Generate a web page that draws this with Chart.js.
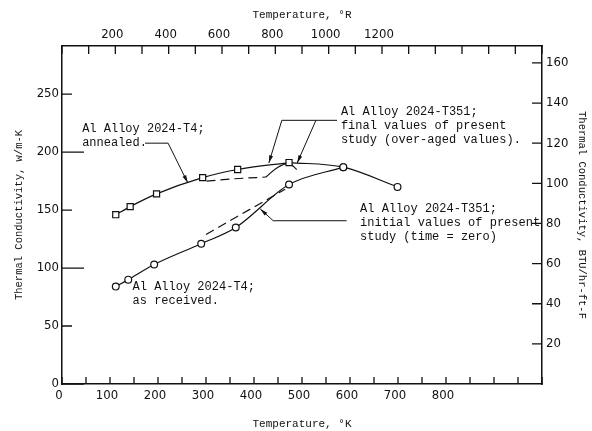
<!DOCTYPE html>
<html>
<head>
<meta charset="utf-8">
<script src="https://cdn.jsdelivr.net/npm/chart.js@4.4.0/dist/chart.umd.min.js"></script>
<style>
  html, body { margin: 0; padding: 0; background: #fff; }
  #wrap { width: 592px; height: 431px; }
</style>
</head>
<body>
<div id="wrap"><canvas id="chart" width="592" height="431"></canvas></div>
<script>
// temperature in K, conductivity in W/m-K
const annealedK = [112, 142, 197, 293, 366, 473];
const annealedW = [146, 153, 164, 178, 185, 191];
const receivedK = [112, 138, 192, 290, 362, 473, 586];
const receivedW = [84, 90, 103, 121, 135, 172, 187];
const finalK = [473, 586, 699];
const finalW = [191, 187, 170];
const finalDashK = [301, 360, 425];
const finalDashW = [175, 177, 178.5];
const finalArcK = [425, 450, 473, 489];
const finalArcW = [178.5, 187, 190, 185];
const initialDashK = [300, 465];
const initialDashW = [129, 168];

const kTicks = [0, 50, 100, 150, 200, 250, 300, 350, 400, 450, 500, 550, 600, 650, 700, 750, 800, 850, 900, 950, 1000];
const kLabels = [0, 100, 200, 300, 400, 500, 600, 700, 800];
const rTicks = [0, 100, 200, 300, 400, 500, 600, 700, 800, 900, 1000, 1100, 1200, 1300, 1400, 1500, 1600, 1700, 1800];
const rLabels = [200, 400, 600, 800, 1000, 1200];
const wTicks = [0, 50, 100, 150, 200, 250];
const btuTicks = [20, 40, 60, 80, 100, 120, 140, 160];

const W_PER_BTU = 1.7307;
const kMax = 1000, wMax = 291.5;

const notes = [
  { k: 42, w: 220, lines: ['Al Alloy 2024-T4;', 'annealed.'] },
  { k: 581, w: 234.6, lines: ['Al Alloy 2024-T351;', 'final values of present', 'study (over-aged values).'] },
  { k: 621, w: 151, lines: ['Al Alloy 2024-T351;', 'initial values of present', 'study (time = zero)'] },
  { k: 147, w: 84, lines: ['Al Alloy 2024-T4;', 'as received.'] }
];
// leader lines, [K, W] pairs, arrow on last point
const leaders = [
  [[173, 207.7], [221, 207.7], [262, 173.5]],
  [[573, 227.4], [458, 227.4], [431, 190.6]],
  [[529, 227.4], [490, 190.6]],
  [[593, 140.8], [440, 140.8], [413, 151]]
];

const pts = (xs, ys) => xs.map((x, i) => ({ x: x, y: ys[i] }));
const monoFont = "'Liberation Mono', 'DejaVu Sans Mono', monospace";
const tickFont = { family: "'Liberation Sans Narrow', 'DejaVu Sans Condensed', 'Liberation Sans', sans-serif", size: 13 };

const base = {
  showLine: true,
  borderColor: '#111',
  borderWidth: 1.2,
  pointBackgroundColor: '#fff',
  pointBorderColor: '#111',
  pointBorderWidth: 1.2,
  cubicInterpolationMode: 'monotone'
};

const inwardTicks = {
  id: 'inwardTicks',
  afterDraw(chart) {
    const ctx = chart.ctx;
    const { left, right, top, bottom } = chart.chartArea;
    const s = chart.scales;
    ctx.save();
    ctx.strokeStyle = '#111';
    ctx.lineWidth = 1.3;
    ctx.beginPath();
    kTicks.forEach(v => {
      const x = s.x.getPixelForValue(v);
      ctx.moveTo(x, bottom); ctx.lineTo(x, bottom - 7);
    });
    rTicks.forEach(v => {
      const x = s.xR.getPixelForValue(v);
      ctx.moveTo(x, top); ctx.lineTo(x, top + 8);
    });
    wTicks.forEach(v => {
      const y = s.y.getPixelForValue(v);
      const len = v % 100 === 0 ? 22 : 10;
      ctx.moveTo(left, y); ctx.lineTo(left + len, y);
    });
    btuTicks.forEach(v => {
      const y = s.yB.getPixelForValue(v);
      ctx.moveTo(right, y); ctx.lineTo(right - 10, y);
    });
    ctx.stroke();

    // annotations
    ctx.fillStyle = '#111';
    ctx.font = '12px ' + monoFont;
    ctx.textBaseline = 'middle';
    ctx.textAlign = 'left';
    notes.forEach(n => {
      const x = s.x.getPixelForValue(n.k);
      const y = s.y.getPixelForValue(n.w);
      n.lines.forEach((t, i) => ctx.fillText(t, x, y + i * 14));
    });

    ctx.lineWidth = 1;
    leaders.forEach(path => {
      const p = path.map(([k, w]) => [s.x.getPixelForValue(k), s.y.getPixelForValue(w)]);
      ctx.beginPath();
      p.forEach(([x, y], i) => i ? ctx.lineTo(x, y) : ctx.moveTo(x, y));
      ctx.stroke();
      const [x1, y1] = p[p.length - 2];
      const [x2, y2] = p[p.length - 1];
      const a = Math.atan2(y2 - y1, x2 - x1);
      ctx.beginPath();
      ctx.moveTo(x2, y2);
      ctx.lineTo(x2 - 8 * Math.cos(a - 0.25), y2 - 8 * Math.sin(a - 0.25));
      ctx.lineTo(x2 - 8 * Math.cos(a + 0.25), y2 - 8 * Math.sin(a + 0.25));
      ctx.closePath();
      ctx.fill();
    });
    ctx.restore();
  }
};

new Chart(document.getElementById('chart'), {
  type: 'scatter',
  data: {
    datasets: [
      Object.assign({}, base, { label: 'T4 annealed', data: pts(annealedK, annealedW), pointStyle: 'rect', pointRadius: 4.3 }),
      Object.assign({}, base, { label: 'T4 as received', data: pts(receivedK, receivedW), pointStyle: 'circle', pointRadius: 3.4 }),
      Object.assign({}, base, { label: 'T351 final', data: pts(finalK, finalW), pointStyle: 'circle', pointRadius: [0, 3.4, 3.4] }),
      Object.assign({}, base, { label: 'T351 final dashed', data: pts(finalDashK, finalDashW), pointRadius: 0, borderDash: [9, 5] }),
      Object.assign({}, base, { label: 'T351 final arc', data: pts(finalArcK, finalArcW), pointRadius: 0, cubicInterpolationMode: 'default', tension: 0.4 }),
      Object.assign({}, base, { label: 'T351 initial', data: pts(initialDashK, initialDashW), pointRadius: 0, borderDash: [9, 5] })
    ]
  },
  options: {
    responsive: false,
    animation: false,
    devicePixelRatio: 1,
    layout: { padding: 0 },
    plugins: { legend: { display: false }, tooltip: { enabled: false } },
    scales: {
      x: {
        type: 'linear', position: 'bottom', min: 0, max: kMax,
        afterBuildTicks: axis => { axis.ticks = kTicks.map(v => ({ value: v })); },
        afterFit: axis => { axis.height = 47; },
        grid: { display: false, drawTicks: false },
        border: { color: '#111', width: 1.5 },
        ticks: { color: '#111', font: tickFont, padding: 4, maxRotation: 0, autoSkip: false, labelOffset: -3,
          callback: v => kLabels.includes(v) ? String(v) : '' },
        title: { display: true, text: 'Temperature, °K', color: '#111', font: { family: monoFont, size: 11 }, padding: { top: 0, bottom: 0 } }
      },
      xR: {
        type: 'linear', position: 'top', min: 0, max: kMax * 1.8,
        afterBuildTicks: axis => { axis.ticks = rTicks.map(v => ({ value: v })); },
        afterFit: axis => { axis.height = 46; },
        grid: { display: false, drawTicks: false },
        border: { color: '#111', width: 1.5 },
        ticks: { color: '#111', font: tickFont, padding: 4, maxRotation: 0, autoSkip: false, labelOffset: -3,
          callback: v => rLabels.includes(v) ? String(v) : '' },
        title: { display: true, text: 'Temperature, °R', color: '#111', font: { family: monoFont, size: 11 }, padding: { top: 8, bottom: 0 } }
      },
      y: {
        type: 'linear', position: 'left', min: 0, max: wMax,
        afterBuildTicks: axis => { axis.ticks = wTicks.map(v => ({ value: v })); },
        afterFit: axis => { axis.width = 62; },
        grid: { display: false, drawTicks: false },
        border: { color: '#111', width: 1.5 },
        ticks: { color: '#111', font: tickFont, padding: 3 },
        title: { display: true, text: 'Thermal Conductivity, w/m-K', color: '#111', font: { family: monoFont, size: 10.5 }, padding: { top: 13, bottom: 0 } }
      },
      yB: {
        type: 'linear', position: 'right', min: 0, max: wMax / W_PER_BTU,
        afterBuildTicks: axis => { axis.ticks = btuTicks.map(v => ({ value: v })); },
        afterFit: axis => { axis.width = 50; },
        grid: { display: false, drawTicks: false },
        border: { color: '#111', width: 1.5 },
        ticks: { color: '#111', font: tickFont, padding: 4 },
        title: { display: true, text: 'Thermal Conductivity, BTU/hr-ft-F', color: '#111', font: { family: monoFont, size: 10.5 }, padding: { top: 4, bottom: 0 } }
      }
    }
  },
  plugins: [inwardTicks]
});
</script>
</body>
</html>
